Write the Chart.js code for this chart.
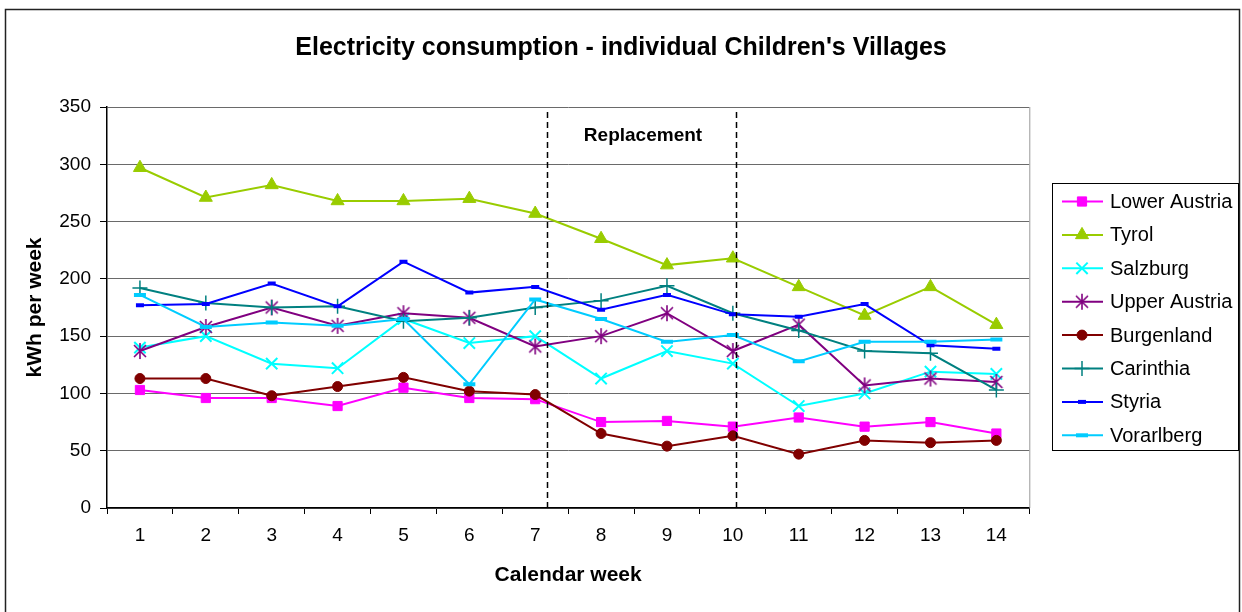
<!DOCTYPE html>
<html>
<head>
<meta charset="utf-8">
<script src="https://cdn.jsdelivr.net/npm/chart.js@4/dist/chart.umd.min.js"></script>
<style>
  html, body { margin: 0; padding: 0; background: #fff; }
  #wrap { width: 1242px; height: 612px; }
</style>
</head>
<body>
<div id="wrap"><canvas id="myChart" width="1242" height="612"></canvas></div>
<script>
// data
var weeks = ["1", "2", "3", "4", "5", "6", "7", "8", "9", "10", "11", "12", "13", "14"];
var lowerAustria = [103, 96, 96, 89, 105, 96, 95, 75, 76, 71, 79, 71, 75, 65];
var tyrol = [297, 271, 282, 268, 268, 270, 257, 235, 212, 218, 193, 168, 193, 160];
var salzburg = [140, 150, 126, 122, 165, 144, 150, 113, 137, 126, 89, 100, 119, 117];
var upperAustria = [137, 158, 175, 159, 170, 166, 141, 150, 170, 137, 160, 107, 113, 110];
var burgenland = [113, 113, 98, 106, 114, 102, 99, 65, 54, 63, 47, 59, 57, 59];
var carinthia = [192, 179, 175, 176, 163, 166, 175, 181, 194, 170, 155, 137, 135, 103];
var styria = [177, 178, 196, 176, 215, 188, 193, 173, 186, 169, 167, 178, 142, 139];
var vorarlberg = [186, 158, 162, 159, 165, 108, 182, 165, 145, 151, 128, 145, 145, 147];

var seriesNames = ["Lower Austria", "Tyrol", "Salzburg", "Upper Austria", "Burgenland", "Carinthia", "Styria", "Vorarlberg"];
var seriesData = [lowerAustria, tyrol, salzburg, upperAustria, burgenland, carinthia, styria, vorarlberg];
var seriesColors = ["#FF00FF", "#99CC00", "#00FFFF", "#800080", "#800000", "#008080", "#0000FF", "#00CCFF"];

// excel style asterisk: an X with a vertical bar
function asteriskMarker(color) {
    var c = document.createElement("canvas");
    c.width = 18;
    c.height = 18;
    var g = c.getContext("2d");
    g.strokeStyle = color;
    g.lineWidth = 1.6;
    g.beginPath();
    g.moveTo(3, 3); g.lineTo(15, 15);
    g.moveTo(15, 3); g.lineTo(3, 15);
    g.moveTo(9, 1); g.lineTo(9, 17);
    g.stroke();
    return c;
}

var markerStyles = ["rect", "triangle", "crossRot", asteriskMarker("#800080"), "circle", "cross", "line", "line"];
var markerRadius = [6.5, 7.5, 8, 8, 5, 7.5, 4, 6];
var markerBorder = [1, 1, 2, 1.5, 1, 1.5, 4, 4];

// replacement period markers (category index)
var replaceStart = 6.18;
var replaceEnd = 9.05;

var font = "'Liberation Sans', Arial, sans-serif";

var datasets = [];
for (var i = 0; i < seriesNames.length; i++) {
    datasets.push({
        label: seriesNames[i],
        data: seriesData[i],
        borderColor: seriesColors[i],
        backgroundColor: seriesColors[i],
        borderWidth: 2,
        pointStyle: markerStyles[i],
        pointRadius: markerRadius[i],
        pointHoverRadius: markerRadius[i],
        pointBorderWidth: markerBorder[i],
        pointBackgroundColor: seriesColors[i],
        pointBorderColor: seriesColors[i],
        tension: 0,
        order: seriesNames.length - i
    });
}

var decorPlugin = {
    id: "decor",
    beforeDraw: function (chart) {
        var ctx = chart.ctx;
        ctx.save();
        ctx.fillStyle = "#fff";
        ctx.fillRect(0, 0, chart.width, chart.height);
        ctx.restore();
    },
    afterDraw: function (chart) {
        var ctx = chart.ctx;
        var area = chart.chartArea;
        var x = chart.scales.x;
        ctx.save();

        // outer frame
        ctx.strokeStyle = "#222";
        ctx.lineWidth = 1.5;
        ctx.strokeRect(5.5, 9.5, 1234, 620);

        // right edge of plot area
        ctx.strokeStyle = "#999";
        ctx.lineWidth = 1;
        ctx.beginPath();
        ctx.moveTo(area.right + 0.5, area.top);
        ctx.lineTo(area.right + 0.5, area.bottom);
        ctx.stroke();

        // title
        ctx.fillStyle = "#000";
        ctx.font = "bold 25px " + font;
        ctx.textAlign = "center";
        ctx.textBaseline = "alphabetic";
        ctx.fillText("Electricity consumption - individual Children's Villages", 621, 55);

        // replacement period
        ctx.strokeStyle = "#000";
        ctx.lineWidth = 1.5;
        ctx.setLineDash([6, 4]);
        [replaceStart, replaceEnd].forEach(function (v) {
            var px = Math.round(x.getPixelForValue(v)) + 0.5;
            ctx.beginPath();
            ctx.moveTo(px, area.top + 5);
            ctx.lineTo(px, area.bottom);
            ctx.stroke();
        });
        ctx.setLineDash([]);
        ctx.font = "bold 19px " + font;
        ctx.fillText("Replacement", 643, 141);

        // legend
        var lx = 1052.5, ly = 183.5, lw = 186, lh = 267;
        ctx.fillStyle = "#fff";
        ctx.fillRect(lx, ly, lw, lh);
        ctx.strokeStyle = "#000";
        ctx.lineWidth = 1;
        ctx.strokeRect(lx, ly, lw, lh);
        ctx.font = "20px " + font;
        ctx.textAlign = "left";
        ctx.textBaseline = "middle";
        for (var i = 0; i < seriesNames.length; i++) {
            var ry = 201.5 + i * 33.4;
            ctx.strokeStyle = seriesColors[i];
            ctx.lineWidth = 2;
            ctx.beginPath();
            ctx.moveTo(1062, ry);
            ctx.lineTo(1103, ry);
            ctx.stroke();
            ctx.fillStyle = seriesColors[i];
            ctx.lineWidth = markerBorder[i];
            Chart.helpers.drawPoint(ctx, {
                pointStyle: markerStyles[i],
                radius: markerRadius[i],
                rotation: 0,
                borderWidth: markerBorder[i]
            }, 1082, ry);
            ctx.fillStyle = "#000";
            ctx.fillText(seriesNames[i], 1110, ry + 1);
        }
        ctx.restore();
    }
};

new Chart("myChart", {
    type: "line",
    data: {
        labels: weeks,
        datasets: datasets
    },
    options: {
        responsive: false,
        animation: false,
        events: [],
        layout: {
            padding: { left: 5, right: 212.7, top: 107, bottom: 8 }
        },
        plugins: {
            legend: { display: false },
            title: { display: false },
            tooltip: { enabled: false }
        },
        scales: {
            x: {
                offset: true,
                grid: {
                    offset: true,
                    drawOnChartArea: false,
                    tickLength: 6,
                    tickColor: "#000",
                    color: "#000"
                },
                border: { color: "#000", width: 1.5 },
                ticks: {
                    color: "#000",
                    padding: 10,
                    maxRotation: 0,
                    font: { family: font, size: 19 }
                },
                title: {
                    display: true,
                    text: "Calendar week",
                    color: "#000",
                    font: { family: font, size: 21, weight: "bold" },
                    padding: { top: 4, bottom: 16.4 }
                },
                afterFit: function (scale) { scale.height = 96; }
            },
            y: {
                min: 0,
                max: 350,
                ticks: {
                    stepSize: 50,
                    color: "#000",
                    padding: 9,
                    font: { family: font, size: 19 }
                },
                grid: {
                    color: "#6a6a6a",
                    tickLength: 7,
                    tickColor: "#000"
                },
                border: { color: "#000", width: 1.5 },
                title: {
                    display: true,
                    text: "kWh per week",
                    color: "#000",
                    font: { family: font, size: 21, weight: "bold" },
                    padding: { top: 17.4, bottom: 4 }
                },
                afterFit: function (scale) { scale.width = 102; }
            }
        }
    },
    plugins: [decorPlugin]
});
</script>
</body>
</html>
